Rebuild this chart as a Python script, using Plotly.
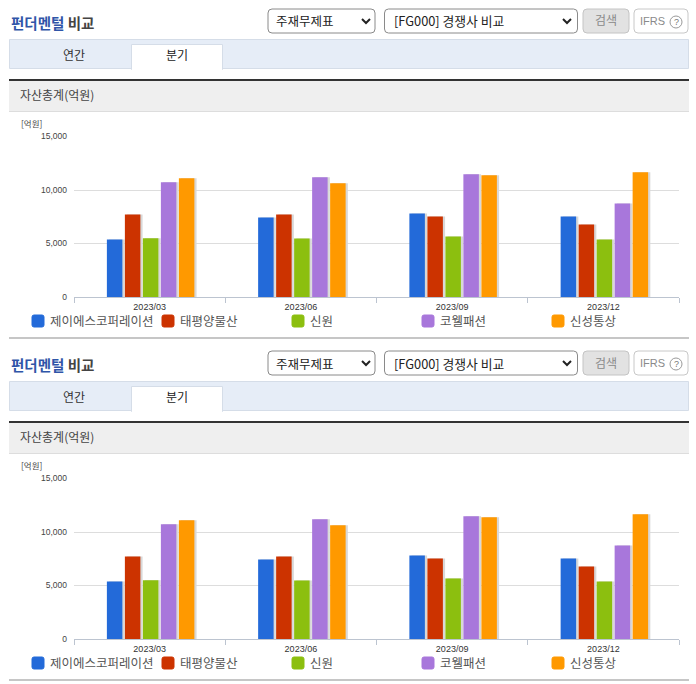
import plotly.graph_objects as go

# --- Values (억원) ---
quarters = ["2023/03", "2023/06", "2023/09", "2023/12"]
jsco = [5380, 7440, 7810, 7530]
taepyung = [7720, 7720, 7530, 6780]
shinwon = [5500, 5470, 5660, 5380]
coreel = [10720, 11190, 11470, 8750]
shinsung = [11090, 10630, 11380, 11660]

series_names = ["제이에스코퍼레이션", "태평양물산", "신원", "코웰패션", "신성통상"]
series_values = [jsco, taepyung, shinwon, coreel, shinsung]
colors = ["#236AD9", "#CC3300", "#8CBF0F", "#A877DB", "#FF9900"]
y_ticks = [0, 5000, 10000, 15000]

W, H = 696, 684
FONT = "Noto Sans CJK KR"
BLOCK_OFFSET = 342

shapes = []
annotations = []


def px(x):
    return x / W


def py(y):
    return 1 - y / H


def rect(x0, y0, x1, y1, fill, line=None, lw=1):
    shapes.append(dict(
        type="rect", xref="paper", yref="paper", layer="below",
        x0=px(x0), x1=px(x1), y0=py(y0), y1=py(y1),
        fillcolor=fill, line=dict(color=line or fill, width=lw if line else 0),
    ))


def rrect(x0, y0, x1, y1, fill, line, r=4):
    d = (
        f"M{px(x0 + r)},{py(y0)} L{px(x1 - r)},{py(y0)} Q{px(x1)},{py(y0)} {px(x1)},{py(y0 + r)} "
        f"L{px(x1)},{py(y1 - r)} Q{px(x1)},{py(y1)} {px(x1 - r)},{py(y1)} "
        f"L{px(x0 + r)},{py(y1)} Q{px(x0)},{py(y1)} {px(x0)},{py(y1 - r)} "
        f"L{px(x0)},{py(y0 + r)} Q{px(x0)},{py(y0)} {px(x0 + r)},{py(y0)} Z"
    )
    shapes.append(dict(type="path", xref="paper", yref="paper", layer="below",
                       path=d, fillcolor=fill, line=dict(color=line, width=1)))


def chevron(cx, cy):
    d = f"M{px(cx - 4)},{py(cy - 2)} L{px(cx)},{py(cy + 2)} L{px(cx + 4)},{py(cy - 2)}"
    shapes.append(dict(type="path", xref="paper", yref="paper", path=d,
                       line=dict(color="#222222", width=2)))


def label(x, y, text, size=12, color="#333333", anchor="left", family=FONT):
    annotations.append(dict(
        x=px(x), y=py(y), xref="paper", yref="paper", text=text, showarrow=False,
        xanchor=anchor, yanchor="middle", borderpad=0,
        font=dict(family=family, size=size, color=color),
    ))


def draw_block(dy):
    # header row
    label(10, 23 + dy, "<b><span style='color:#2F55A8'>펀더멘털</span> 비교</b>", 14.5, "#444444")
    rrect(268, 9 + dy, 375, 33 + dy, "#FFFFFF", "#8A8A8A")
    label(275, 21 + dy, "주재무제표", 12.5, "#222222")
    chevron(366, 21 + dy)
    rrect(384.5, 9 + dy, 577.5, 33 + dy, "#FFFFFF", "#8A8A8A")
    label(393, 21 + dy, "[FG000] 경쟁사 비교", 12.8, "#222222")
    chevron(567, 21 + dy)
    rrect(583, 9 + dy, 629, 33 + dy, "#E2E2E2", "#C4C4C4")
    label(606, 20 + dy, "검색", 12, "#8A8A8A", "center")
    rrect(634, 9 + dy, 688, 33 + dy, "#FFFFFF", "#C8C8C8")
    label(652, 21 + dy, "IFRS", 11, "#8A8A8A", "center", "Liberation Sans")
    shapes.append(dict(type="circle", xref="paper", yref="paper",
                       x0=px(670), x1=px(682), y0=py(16 + dy), y1=py(28 + dy),
                       line=dict(color="#9A9A9A", width=1)))
    label(676, 22 + dy, "?", 9, "#777777", "center", "Liberation Sans")

    # tabs
    rect(9.5, 39.5 + dy, 688.5, 68.5 + dy, "#E6EDF7", "#D5DDE8")
    rect(131.5, 44.5 + dy, 222.5, 69.5 + dy, "#FFFFFF", "#D5DDE8")
    rect(132, 67 + dy, 222, 70 + dy, "#FFFFFF")
    label(74, 55 + dy, "연간", 12, "#333333", "center")
    label(177, 55 + dy, "분기", 12, "#222222", "center")

    # section heading
    rect(9, 81 + dy, 689, 111 + dy, "#EFEFEF")
    rect(9, 111 + dy, 689, 112 + dy, "#DDDDDD")
    rect(9, 79 + dy, 689, 81 + dy, "#333333")
    label(19, 95 + dy, "자산총계(억원)", 12, "#444444")
    label(20, 123 + dy, "[억원]", 8.5, "#444444")

    # legend row, one entry every 130 px
    for i, (name, color) in enumerate(zip(series_names, colors)):
        lx = 32 + i * 130
        rrect(lx, 315 + dy, lx + 12, 327 + dy, color, color, r=2)
        label(lx + 17, 320 + dy, name, 12.5, "#555555")

    # bottom rule
    rect(9, 337 + dy, 689, 339 + dy, "#C6C6C6")


draw_block(0)
draw_block(BLOCK_OFFSET)

# --- Bars: group geometry in px, converted to category units ---
CAT_W = 605 / 4
SLOT = 18 / CAT_W
BAR_W = 15.5 / CAT_W
START = (-43.75 + 1) / CAT_W
SHADOW = 2.2 / CAT_W

fig = go.Figure()

for xa, ya in [("x", "y"), ("x2", "y2")]:
    for i, (name, vals, color) in enumerate(zip(series_names, series_values, colors)):
        fig.add_trace(go.Bar(
            x=quarters, y=vals, xaxis=xa, yaxis=ya, width=BAR_W,
            offset=START + i * SLOT + SHADOW, marker=dict(color="#D8D8D8", line_width=0),
            hoverinfo="skip",
        ))
        fig.add_trace(go.Bar(
            x=quarters, y=vals, xaxis=xa, yaxis=ya, width=BAR_W,
            offset=START + i * SLOT, name=name,
            marker=dict(color=color, line_width=0),
        ))

x_axis = dict(
    type="category", tickson="boundaries", ticks="outside", ticklen=5, tickwidth=1,
    tickcolor="#BCC4D0", showline=True, linecolor="#BCC4D0", showgrid=False,
    ticklabelstandoff=1,
    tickfont=dict(family="Liberation Sans", size=9, color="#333333"),
)
y_axis = dict(
    range=[0, 15000], tickvals=y_ticks, tickformat=",", gridcolor="#DDDDDD", gridwidth=1,
    zeroline=False, showline=False, ticks="", ticklabelstandoff=6,
    tickfont=dict(family="Liberation Sans", size=8.5, color="#444444"),
)

fig.update_layout(
    width=W, height=H, margin=dict(l=0, r=0, t=0, b=0, autoexpand=False), autosize=False,
    paper_bgcolor="#FFFFFF", plot_bgcolor="#FFFFFF", barmode="overlay",
    showlegend=False, shapes=shapes, annotations=annotations,
    xaxis=dict(domain=[px(74), px(679)], anchor="y", **x_axis),
    yaxis=dict(domain=[py(297), py(136.5)], anchor="x", **y_axis),
    xaxis2=dict(domain=[px(74), px(679)], anchor="y2", **x_axis),
    yaxis2=dict(domain=[py(297 + BLOCK_OFFSET), py(136.5 + BLOCK_OFFSET)], anchor="x2", **y_axis),
)

fig.write_html("out.html", config=dict(displayModeBar=False),
               post_script="document.body.style.margin='0';")
